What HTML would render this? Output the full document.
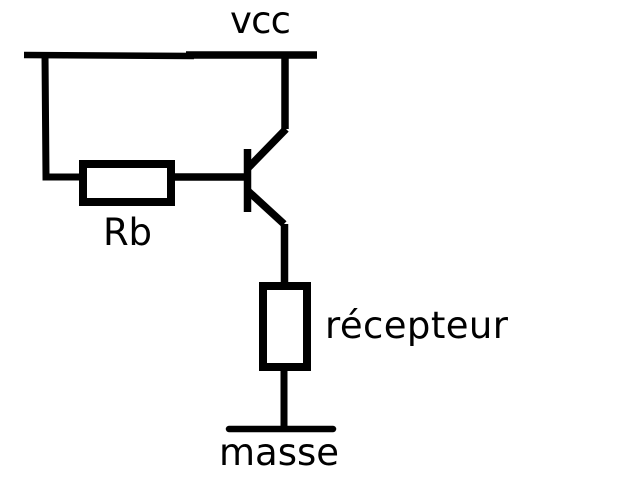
<!DOCTYPE html>
<html>
<head>
<meta charset="utf-8">
<style>
html,body{margin:0;padding:0;background:#fff;}
svg{display:block;}
text{font-family:"DejaVu Sans","Liberation Sans",sans-serif;fill:#000;}
</style>
</head>
<body>
<svg width="632" height="480" viewBox="0 0 632 480" xmlns="http://www.w3.org/2000/svg">
<g fill="none" stroke="#000" stroke-width="7">
<path d="M24 55 L194 56" stroke-width="6.5"/>
<path d="M186 55 L317 55" stroke-width="7.5"/>
<path d="M45 55 L46 177 L82 177" stroke-width="7"/>
<rect x="83" y="164" width="88" height="38" stroke-width="8"/>
<path d="M172 177 L246 177" stroke-width="7.5"/>
<path d="M247.5 149 L247.5 212" stroke-width="7.5"/>
<path d="M285 55 L285 129" stroke-width="7.5"/>
<path d="M286 129 L248 168" stroke-width="7.5"/>
<path d="M248 191 L284 224" stroke-width="7.5"/>
<path d="M284.5 224 L284.5 284" stroke-width="7.5"/>
<rect x="263" y="286" width="44" height="81" stroke-width="8"/>
<path d="M284 370 L284 428" stroke-width="7"/>
<path d="M229 429 L333 429" stroke-width="6.5" stroke-linecap="round"/>
</g>
<text x="230" y="33" font-size="37" textLength="61" lengthAdjust="spacing">vcc</text>
<text x="103" y="245" font-size="37" textLength="49" lengthAdjust="spacing">Rb</text>
<text x="325" y="338" font-size="37" textLength="183" lengthAdjust="spacing">récepteur</text>
<text x="219" y="465" font-size="37" textLength="120" lengthAdjust="spacing">masse</text>
</svg>
</body>
</html>
